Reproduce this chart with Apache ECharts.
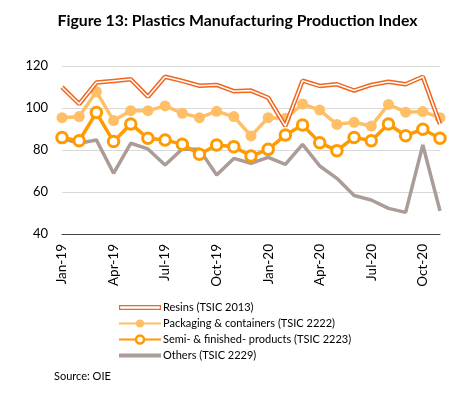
<!DOCTYPE html>
<html><head><meta charset="utf-8">
<script src="https://cdn.jsdelivr.net/npm/echarts@6/dist/echarts.min.js"></script>
<style>html,body{margin:0;padding:0;background:#fff}#c{width:475px;height:395px}</style>
</head><body><div id="c"></div>
<script>
const months = ['Jan-19','Feb-19','Mar-19','Apr-19','May-19','Jun-19','Jul-19','Aug-19','Sep-19','Oct-19','Nov-19','Dec-19',
  'Jan-20','Feb-20','Mar-20','Apr-20','May-20','Jun-20','Jul-20','Aug-20','Sep-20','Oct-20','Nov-20'];
const resins    = [109.9,101.9,112.1,112.9,113.7,105.4,114.9,112.9,110.6,111.0,108.0,108.3,104.9,91.4,113.0,110.5,111.3,108.3,111.0,112.5,111.3,114.9,92.4];
const packaging = [95.4,95.9,107.8,94.0,98.7,98.7,101.0,97.5,95.4,98.4,95.9,86.7,95.4,95.1,101.9,99.0,92.2,93.2,91.4,101.7,98.0,98.3,95.4];
const semi      = [85.9,84.4,97.8,84.0,92.4,85.6,84.8,82.7,78.0,82.4,81.6,77.1,80.3,87.1,91.9,83.5,79.7,86.0,84.4,92.4,86.8,89.9,85.6];
const others    = [85.6,83.2,84.8,68.9,83.2,80.5,72.9,80.5,80.3,68.1,76.0,73.7,76.5,73.2,82.7,72.4,66.5,58.3,56.2,52.2,50.3,82.4,51.0];
const names = ['Resins (TSIC 2013)','Packaging & containers (TSIC 2222)','Semi- & finished- products (TSIC 2223)','Others (TSIC 2229)'];
const yTicks = {min:40, max:120, interval:20};

const FONT = 'Lato, "Open Sans", sans-serif';
const cResin = '#F0661E', cPack = '#FFBF66', cSemi = '#FF9A00', cOther = '#AB9C98';
const resinIcon = 'path://M0,0L0,0M42,10L42,10M0,2.6L42,2.6L42,7.4L0,7.4ZM1.2,3.8L1.2,6.2L40.8,6.2L40.8,3.8Z';
const otherIcon = 'path://M0,0L0,0M42,10L42,10M0,3L42,3L42,7L0,7Z';
const noStroke = {color:'transparent', width:0};
const chart = echarts.init(document.getElementById('c'), null, {renderer:'canvas'});
chart.setOption({
  animation:false,
  title:{text:'Figure 13: Plastics Manufacturing Production Index', left:'center', top:8,
    textStyle:{fontFamily:FONT, fontWeight:'bold', fontSize:15.8, color:'#000'}},
  grid:{left:62, right:35, top:66, bottom:161},
  legend:{orient:'vertical', left:113, top:297, itemWidth:42, itemHeight:10, itemGap:5,
    symbolKeepAspect:true,
    textStyle:{fontFamily:FONT, fontSize:11, color:'#000', padding:[0,0,0,-3]},
    data:[
      {name:names[0], icon:resinIcon, itemStyle:{color:cResin, borderColor:'transparent', borderWidth:0}, lineStyle:noStroke},
      {name:names[1]},
      {name:names[2], itemStyle:{color:'#fff', borderColor:cSemi, borderWidth:2.5}},
      {name:names[3], icon:otherIcon, itemStyle:{color:cOther, borderColor:'transparent', borderWidth:0}, lineStyle:noStroke}
    ]},
  graphic:[{type:'text', left:54, top:371, style:{text:'Source: OIE', font:'11px '+FONT, fill:'#000'}}],
  xAxis:{type:'category', data:months, boundaryGap:false,
    axisLine:{lineStyle:{color:'#404040', width:1}}, axisTick:{show:false},
    axisLabel:{interval:2, rotate:90, fontFamily:FONT, fontSize:13.5, color:'#000', margin:10}},
  yAxis:{type:'value', min:yTicks.min, max:yTicks.max, interval:yTicks.interval,
    axisLine:{show:false}, axisTick:{show:false},
    axisLabel:{fontFamily:FONT, fontSize:13, color:'#000', margin:14},
    splitLine:{lineStyle:{color:'#D9D9D9', width:1}}},
  series:[
    {name:names[3], type:'line', data:others, symbol:'none', lineStyle:{color:cOther, width:3.5}, itemStyle:{color:cOther}, z:2},
    {name:names[2], type:'line', data:semi, symbol:'circle', symbolSize:10.5, showSymbol:true, showAllSymbol:true,
      lineStyle:{color:cSemi, width:3.5}, itemStyle:{color:'#fff', borderColor:cSemi, borderWidth:3}, z:3},
    {name:names[1], type:'line', data:packaging, symbol:'circle', symbolSize:11, showAllSymbol:true,
      lineStyle:{color:cPack, width:3.5}, itemStyle:{color:cPack}, z:4},
    {name:names[0], type:'line', data:resins, symbol:'none', lineStyle:{color:cResin, width:4.5}, itemStyle:{color:cResin}, z:5},
    {name:'resins-inner', type:'line', data:resins, symbol:'none', lineStyle:{color:'#fff', width:1.5}, z:6, silent:true}
  ]
});
</script></body></html>
